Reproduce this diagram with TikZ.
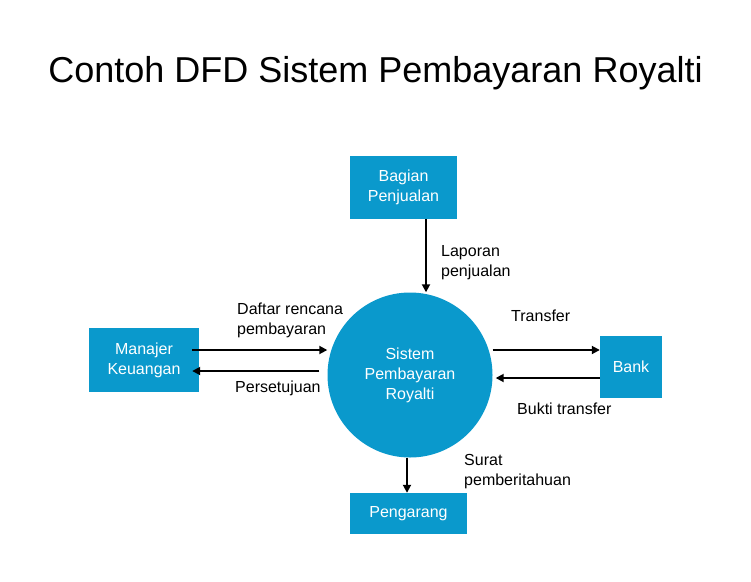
\documentclass[tikz,border=0pt]{standalone}
\usepackage{fontspec}
\setmainfont{Liberation Sans}
\usetikzlibrary{arrows.meta, positioning}
\definecolor{dfdblue}{HTML}{0A99CC}

\tikzset{
    entity/.style={rectangle, fill=dfdblue, text=white, align=center, inner sep=0pt, font=\fontsize{16}{20}\selectfont},
    process/.style={circle, fill=dfdblue, text=white, align=center, inner sep=0pt, font=\fontsize{16}{20}\selectfont},
    flow/.style={-{Triangle[length=8pt, width=8pt]}, line width=1.8pt},
    lbl/.style={anchor=west, align=left, inner sep=0pt, font=\fontsize{16}{20}\selectfont},
}

\begin{document}
\begin{tikzpicture}[x=1pt, y=-1pt]
    \useasboundingbox (0, 0) rectangle (751, 581);

    \node[font=\fontsize{36}{42}\selectfont] (title) at (375.5, 73) {Contoh DFD Sistem Pembayaran Royalti};

    % external entities and the process
    \node[entity, minimum width=107pt, minimum height=63pt] (bp) at (403.5, 187.5) {Bagian\\Penjualan};
    \node[process, minimum size=165pt] (sys) at (410, 375) {Sistem\\Pembayaran\\Royalti};
    \node[entity, minimum width=110pt, minimum height=64pt] (mk) at (144, 360) {Manajer\\Keuangan};
    \node[entity, minimum width=62pt, minimum height=62pt] (bank) at (631, 367) {Bank};
    \node[entity, minimum width=117pt, minimum height=41pt] (peng) at (408.5, 513.5) {Pengarang};

    % data flows
    \draw[flow] ([xshift=22.5pt]bp.south) -- ([xshift=22.5pt]bp.south |- sys.north);
    \node[lbl] (lap) at (441, 263) {Laporan\\penjualan};

    \draw[flow] ([xshift=-7pt, yshift=10pt]mk.east) -- ([yshift=10pt]mk.east -| sys.west);
    \node[lbl] (drp) at (237, 320) {Daftar rencana\\pembayaran};
    \draw[flow] ([xshift=-8pt, yshift=-11pt]mk.east -| sys.west) -- ([xshift=-7pt, yshift=-11pt]mk.east);
    \node[lbl] (setuju) at (235, 388) {Persetujuan};

    \draw[flow] ([yshift=17pt]bank.west -| sys.east) -- ([yshift=17pt]bank.west);
    \node[lbl] (trf) at (511, 316) {Transfer};
    \draw[flow] ([yshift=-11pt]bank.west) -- ([xshift=3pt, yshift=-11pt]bank.west -| sys.east);
    \node[lbl] (bukti) at (517, 409) {Bukti transfer};

    \draw[flow] ([xshift=-3pt]sys.south) -- ([xshift=-3pt]sys.south |- peng.north);
    \node[lbl] (surat) at (464, 472) {Surat\\pemberitahuan};
\end{tikzpicture}
\end{document}
